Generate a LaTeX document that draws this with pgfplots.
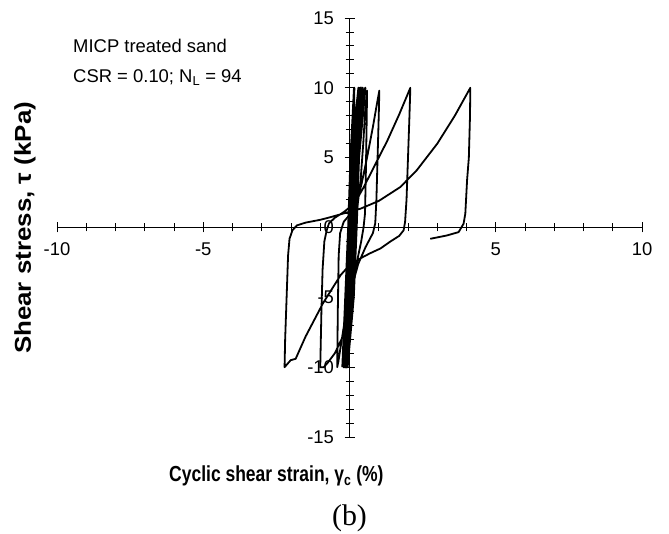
\documentclass[border=0pt]{standalone}
\usepackage{graphicx}
\usepackage{fontspec}
\setmainfont{Liberation Sans}
\newfontfamily\serif{Liberation Serif}
\usepackage{pgfplots}
\pgfplotsset{compat=1.18}
\usetikzlibrary{calc}

\begin{document}
\begin{tikzpicture}
\begin{axis}[name=ax, width=585bp, height=419bp, scale only axis,
    axis lines=middle, axis line style={-, line width=0.9bp},
    xmin=-10, xmax=10, ymin=-15, ymax=15,
    xtick={-10,-5,5,10}, minor xtick={-9,-8,...,9},
    ytick={-15,-10,...,15}, minor ytick={-14,-13,...,14},
    hide obscured y ticks=false,
    tick align=center, major tick length=10bp, minor tick length=8bp,
    tick style={black, line width=0.9bp},
    tick label style={font=\fontsize{18.5}{20}\selectfont},
    /pgf/number format/assume math mode=true,
    xticklabel style={yshift=-7bp},
    yticklabel style={xshift=-7bp},
    clip=false,
  ]
  % many small cycles forming the dense band
  \addplot[black, line width=2.2bp, line join=round] coordinates {
    (-0.24,-10) (-0.14,-5) (-0.04,0) (0.04,5) (0.16,10) (0.13,5) (0.08,0) (0.0,-5)
    (-0.20,-10) (-0.12,-5) (-0.02,0) (0.06,5) (0.31,10) (0.24,5) (0.16,0) (0.06,-5)
    (-0.16,-10) (-0.09,-5) (0.01,0) (0.09,5) (0.36,10) (0.28,5) (0.20,0) (0.10,-5)
    (-0.13,-10) (-0.06,-5) (0.04,0) (0.12,5) (0.40,10) (0.31,5) (0.23,0) (0.13,-5)
    (-0.10,-10) (-0.03,-5) (0.07,0) (0.15,5) (0.36,10) (0.22,5) (0.14,0) (0.04,-5)
    (-0.12,-10) (-0.05,-5) (0.05,0) (0.13,5) (0.39,10) (0.29,5) (0.21,0) (0.11,-5)
    (-0.09,-10) (-0.02,-5) (0.08,0) (0.16,5) (0.54,10) (0.32,5) (0.24,0) (0.14,-5)
    (-0.07,-10) (0.00,-5) (0.10,0) (0.18,5) (0.45,10) (0.26,5) (0.18,0) (0.08,-5)
    (-0.08,-10)
  };
  % last cycles with growing strain
  \addplot[black, line width=1.8bp, line join=round] coordinates {
    (-0.08,-10) (0.0,-6) (0.08,-3) (0.17,0) (0.3,2) (0.38,3.4) (0.47,6) (0.54,8.5) (0.6,9.8)
    (0.59,8) (0.56,4) (0.53,1) (0.48,0) (0.4,-1) (0.25,-2.5) (0.05,-4.5) (-0.15,-6.5) (-0.3,-8.5) (-0.38,-9.6) (-0.42,-10)
    (-0.41,-8) (-0.4,-6) (-0.37,-2) (-0.32,-0.4) (-0.2,0.4) (0.0,0.9) (0.2,1.6) (0.4,3.0) (0.6,5) (0.8,7.2) (0.95,9.0) (1.02,9.8)
    (1.0,8) (0.96,5) (0.92,2) (0.88,0.3) (0.8,-0.4) (0.55,-1.4) (0.3,-2.6) (0.05,-4.5) (-0.1,-6.2) (-0.25,-7.9) (-0.5,-9.0) (-0.75,-9.7) (-0.88,-10) (-1.0,-10)
    (-0.98,-8) (-0.96,-6) (-0.92,-3) (-0.86,-1) (-0.78,-0.2) (-0.7,0.3) (-0.5,0.7) (-0.2,1.1) (0.1,1.6) (0.3,2.2) (0.49,2.9) (0.9,4.6) (1.29,6.2) (1.7,8.1) (2.0,9.6) (2.08,10)
    (2.05,8) (2.0,5) (1.95,2) (1.9,0.4) (1.85,-0.2) (1.7,-0.6) (1.4,-1.0) (1.06,-1.5) (0.7,-1.85) (0.38,-2.2) (0.0,-2.7) (-0.3,-3.4) (-0.9,-5.4) (-1.5,-7.8) (-1.84,-9.4) (-2.01,-9.5) (-2.22,-10)
    (-2.2,-8) (-2.15,-5) (-2.1,-2) (-2.05,-0.8) (-1.95,-0.2) (-1.8,0.15) (-1.5,0.35) (-1.0,0.55) (-0.65,0.74) (0.38,1.35) (1.0,1.9) (1.74,2.9) (2.3,4.1) (3.0,6.0) (3.6,8.0) (4.13,10)
    (4.12,8) (4.08,5) (4.02,3.4) (3.96,1.0) (3.9,0.27) (3.73,-0.33) (3.33,-0.57) (2.76,-0.81)
  };
  \node[anchor=base west, inner sep=0, font=\fontsize{18.5}{22}\selectfont] at (rel axis cs:0.0274,0.9165) {MICP treated sand};
  \node[anchor=base west, inner sep=0, font=\fontsize{18.5}{22}\selectfont] at (rel axis cs:0.0274,0.847) {CSR = 0.10; N\textsubscript{L} = 94};
  \node[anchor=base west, inner sep=0, font=\bfseries\fontsize{19.5}{22}\selectfont] at (rel axis cs:0.1915,-0.107) {\scalebox{0.9}[1.12]{Cyclic shear strain, γ\textsubscript{c} (\%)}};
  \node[rotate=90, anchor=center, inner sep=0, font=\bfseries\fontsize{25}{30}\selectfont] at (rel axis cs:-0.0547,0.499) {\scalebox{1.04}[0.92]{Shear stress, τ (kPa)}};
  \node[anchor=center, inner sep=0, font=\serif\fontsize{30}{32}\selectfont] at (rel axis cs:0.5,-0.193) {(b)};
\end{axis}
\path ($(ax.south west)+(-57bp,-97bp)$) rectangle ($(ax.north east)+(27bp,18bp)$);
\end{tikzpicture}
\end{document}
